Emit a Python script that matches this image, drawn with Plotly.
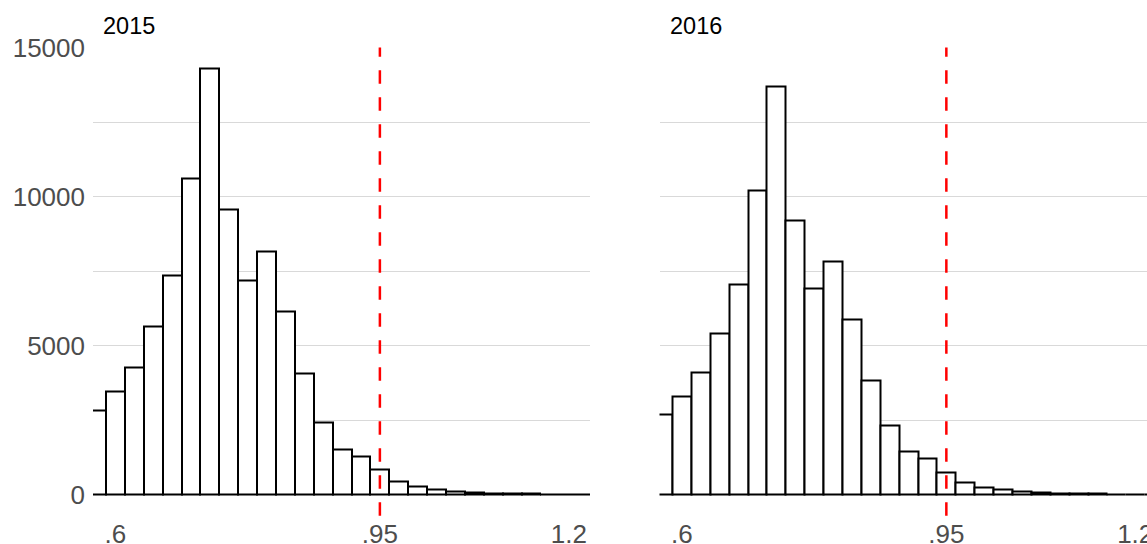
import plotly.graph_objects as go

# ---- data ----
years = ["2015", "2016"]
bin_centers = [0.575, 0.6, 0.625, 0.65, 0.675, 0.7, 0.725, 0.75, 0.775, 0.8,
               0.825, 0.85, 0.875, 0.9, 0.925, 0.95, 0.975, 1.0, 1.025, 1.05,
               1.075, 1.1, 1.125, 1.15, 1.175, 1.2, 1.225]
counts_2015 = [2823, 3460, 4280, 5656, 7359, 10618, 14303, 9565, 7180, 8176,
               6138, 4066, 2419, 1520, 1270, 825, 443, 269, 168, 97,
               64, 40, 28, 20, 14, 10, 7]
counts_2016 = [2699, 3282, 4099, 5421, 7068, 10215, 13710, 9196, 6922, 7840,
               5880, 3842, 2307, 1434, 1210, 739, 400, 245, 155, 90,
               58, 38, 25, 18, 12, 8, 6]
bin_width = 0.025
threshold = 0.95
x_tick_vals = [0.6, 0.95, 1.2]
x_tick_text = [".6", ".95", "1.2"]
y_tick_vals = [0, 2500, 5000, 7500, 10000, 12500, 15000]
y_tick_text = ["0", "", "5000", "", "10000", "", "15000"]

W, H = 1147, 544
FONT = "Liberation Sans, Arial, Helvetica, sans-serif"
TICK_COLOR = "#4D4D4D"
GRID = "#D9D9D9"

# panel geometry in pixels
left_px = [(93, 590), (659.5, 1147)]
top_px, bot_px = 47.5, 515.8
x_ranges = [[0.5703, 1.2281], [0.5703, 1.2156]]
y_range = [-715, 15018]

fig = go.Figure()
for i, (yr, counts) in enumerate(zip(years, [counts_2015, counts_2016])):
    sfx = "" if i == 0 else str(i + 1)
    fig.add_trace(go.Bar(
        x=bin_centers, y=counts, width=bin_width,
        marker=dict(color="white", line=dict(color="black", width=2)),
        xaxis="x" + sfx, yaxis="y" + sfx, showlegend=False,
        hoverinfo="x+y",
    ))
    fig.add_shape(type="line", xref="x" + sfx, yref="y" + sfx + " domain",
                  x0=threshold, x1=threshold, y0=0, y1=1,
                  line=dict(color="#FF0000", width=2.5, dash="13.5px,13.5px"),
                  layer="above")
    fig.add_annotation(text=yr, xref="paper", yref="paper",
                       x=(left_px[i][0] + 8) / W, y=1 - 25.5 / H,
                       xanchor="left", yanchor="middle", showarrow=False,
                       font=dict(family=FONT, size=23.5, color="black"))

dom_y = [1 - bot_px / H, 1 - top_px / H]
xax = dict(tickvals=x_tick_vals, ticktext=x_tick_text, showgrid=False,
           zeroline=False, showline=False, ticks="", automargin=False,
           ticklabeloverflow="allow",
           tickfont=dict(family=FONT, size=26, color=TICK_COLOR))
yax = dict(range=y_range, tickvals=y_tick_vals, ticktext=y_tick_text,
           showgrid=True, gridcolor=GRID, gridwidth=1.2, zeroline=False,
           showline=False, ticks="", automargin=False, ticklabelstandoff=7,
           tickfont=dict(family=FONT, size=26, color=TICK_COLOR))

fig.update_layout(
    width=W, height=H,
    margin=dict(l=0, r=0, t=0, b=0, pad=0),
    paper_bgcolor="white", plot_bgcolor="white",
    bargap=0,
    xaxis=dict(xax, domain=[left_px[0][0] / W, left_px[0][1] / W], range=x_ranges[0], anchor="y"),
    xaxis2=dict(xax, domain=[left_px[1][0] / W, left_px[1][1] / W], range=x_ranges[1], anchor="y2"),
    yaxis=dict(yax, domain=dom_y, anchor="x"),
    yaxis2=dict(yax, domain=dom_y, anchor="x2", matches="y", showticklabels=False),
)

fig.write_html("out.html", config={"displayModeBar": False},
               post_script="document.body.style.margin='0';document.body.style.overflow='hidden';")
